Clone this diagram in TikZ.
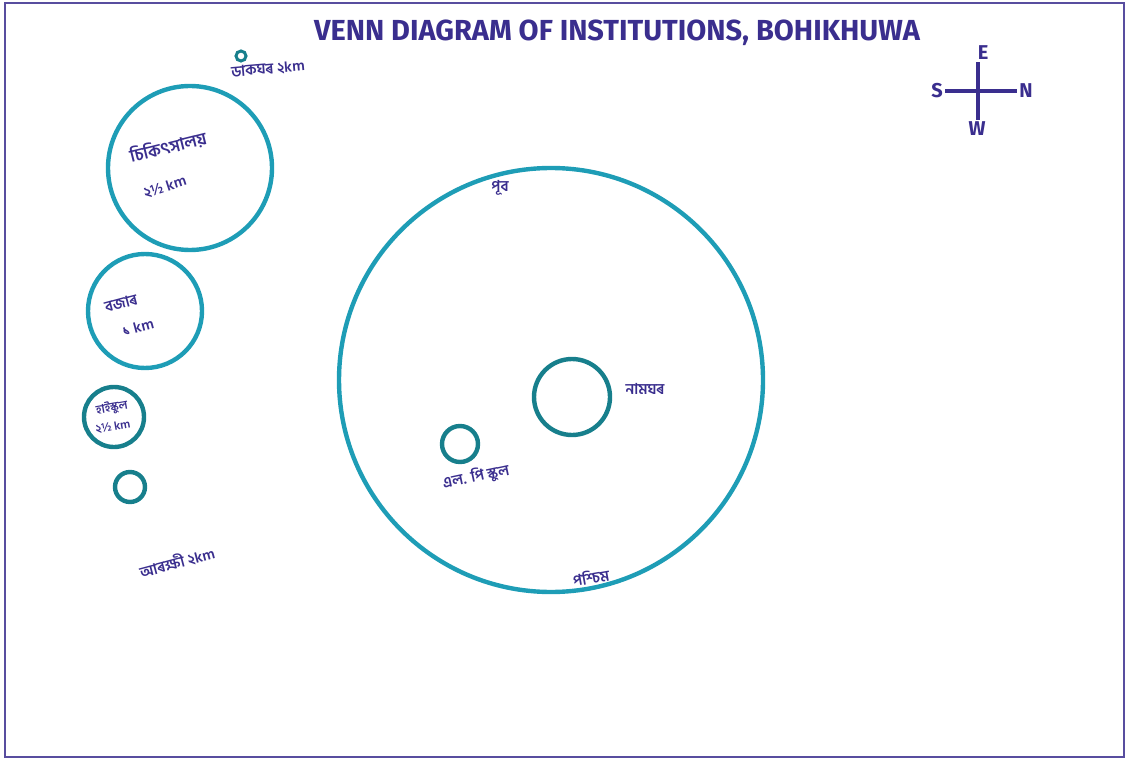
\documentclass[tikz,border=0pt]{standalone}
\usepackage{fontspec}
\setmainfont{Fira Sans}
\newfontfamily\bnfont[Script=Bengali]{Hind Siliguri}
\definecolor{ink}{HTML}{3A2E8E}
\definecolor{ringcol}{HTML}{1E9DB6}
\definecolor{ringdark}{HTML}{177F8C}

\begin{document}
\begin{tikzpicture}[x=0.5pt,y=-0.5pt]
  \useasboundingbox (0,0) rectangle (1127,764);
  \tikzset{ring/.style={circle,draw=ringcol,line width=2.2pt,inner sep=0pt},
           lbl/.style={text=ink,font=\bnfont\bfseries\fontsize{7.5}{8}\selectfont,inner sep=0.5pt},
           cdir/.style={text=ink,font=\bfseries\fontsize{10}{10}\selectfont,inner sep=1pt}}
  \draw[draw=ink!85,line width=1.4pt] (5,3) rectangle (1124,757);
  % title
  \node[text=ink,font=\bfseries\fontsize{14.5}{15}\selectfont] (title) at (617,33)
    {VENN DIAGRAM OF INSTITUTIONS, BOHIKHUWA};
  % compass
  \coordinate (hub) at (978,90);
  \node[cdir] (east) at (983,53) {E};
  \node[cdir] (west) at (977,129) {W};
  \node[cdir] (south) at (937,91) {S};
  \node[cdir] (north) at (1026,91) {N};
  \draw[draw=ink,line width=1.7pt] (hub |- east.south) -- (hub |- west.north);
  \draw[draw=ink,line width=1.7pt] (south.east) -- (north.west);
  % outlying institutions
  \node[ring,draw=ringdark,line width=1.5pt,minimum size=5pt] (post) at (241,56) {};
  \node[lbl,rotate=5] (postlbl) at (268,69) {ডাকঘৰ ২km};
  \node[ring,minimum size=82pt] (hosp) at (190,168) {};
  \node[lbl,font=\bnfont\bfseries\fontsize{8.5}{9}\selectfont,rotate=14] (hosplbl) at (168,147) {চিকিৎসালয়};
  \node[lbl,rotate=18] (hospkm) at (165,187) {২½ km};
  \node[ring,minimum size=57pt] (bazar) at (145,311) {};
  \node[lbl,rotate=15] (bazarlbl) at (121,303) {বজাৰ};
  \node[lbl,rotate=15] (bazarkm) at (138,327) {১ km};
  \node[ring,draw=ringdark,minimum size=30pt] (school) at (114,417) {};
  \node[lbl,font=\bnfont\bfseries\fontsize{6}{6}\selectfont,rotate=10] (schoollbl) at (112,408) {হাইস্কুল};
  \node[lbl,font=\bnfont\bfseries\fontsize{6}{6}\selectfont,rotate=10] (schoolkm) at (113,427) {২½ km};
  \node[ring,draw=ringdark,minimum size=15pt] (thana) at (130,487) {};
  \node[lbl,rotate=15] (thanalbl) at (177,562) {আৰক্ষী ২km};
  % village
  \node[ring,minimum size=212pt] (village) at (551,380) {};
  \node[lbl] (eastlbl) at (500,188) {পূব};
  \node[lbl,rotate=10] (westlbl) at (591,577) {পশ্চিম};
  \node[ring,draw=ringdark,minimum size=38pt] (namghar) at (572,397) {};
  \node[lbl] (namgharlbl) at (645,389) {নামঘৰ};
  \node[ring,draw=ringdark,minimum size=18pt] (lpschool) at (460,444) {};
  \node[lbl,rotate=12] (lplbl) at (476,477) {এল. পি স্কুল};
\end{tikzpicture}
\end{document}
